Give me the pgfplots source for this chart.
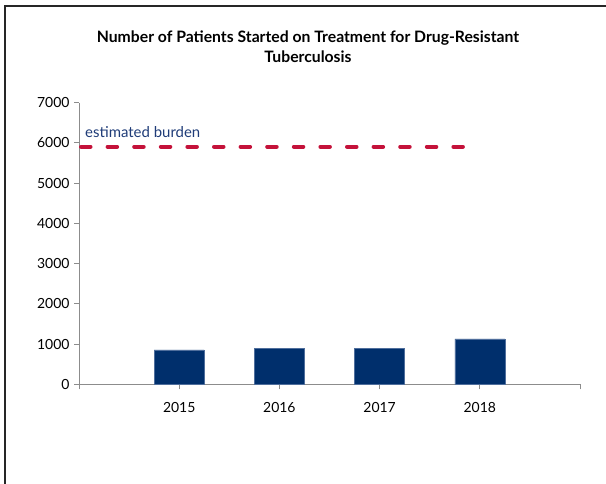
\documentclass[border=0pt]{standalone}
\usepackage{fontspec}
\setmainfont{Lato}
\usepackage{pgfplots}
\pgfplotsset{compat=1.18}
\definecolor{navy}{HTML}{002F6C}
\definecolor{baredge}{HTML}{4F6E9C}
\definecolor{burden}{HTML}{C4123A}
\definecolor{axgray}{HTML}{8C8C8C}
\definecolor{lbl}{HTML}{1F3C78}
\begin{document}
\begin{tikzpicture}[x=1bp,y=1bp]
\path[use as bounding box] (0,0) rectangle (606,484);
\draw[line width=1.3bp, black!85] (5,0) -- (5,478) -- (606,478);
\node[font=\fontsize{15.8}{20}\selectfont\bfseries, align=center] at (308,437) {Number of Patients Started on Treatment for Drug-Resistant\\Tuberculosis};
\begin{axis}[
  at={(79bp,99.7bp)}, anchor=south west,
  scale only axis, width=501bp, height=281.6bp,
  xmin=0, xmax=5, ymin=0, ymax=7000,
  axis lines=left, axis line style={-, axgray, line width=0.9bp},
  xtick={0,1,2,3,4,5}, xticklabels={,2015,2016,2017,2018,},
  ytick={0,1000,...,7000},
  tick style={axgray, line width=0.9bp},
  tick align=outside, major tick length=5bp,
  ticklabel style={font=\fontsize{14}{16}\selectfont},
  /pgf/number format/assume math mode=true,
  /pgf/number format/1000 sep={},
  yticklabel style={xshift=-1bp},
  xticklabel style={yshift=-10bp},
  clip=false,
]
\addplot[ybar, bar width=50bp, fill=navy, draw=baredge, line width=0.5bp]
  coordinates {(1,855) (2,895) (3,895) (4,1127)};
\addplot[burden, line width=4bp, line cap=round, dash pattern=on 9.5bp off 17.1bp]
  coordinates {(0.02,5906) (3.87,5906)};
\end{axis}
\node[anchor=base west, text=lbl, font=\fontsize{15}{17}\selectfont, inner sep=0] at (85,346) {estimated burden};
\end{tikzpicture}
\end{document}
